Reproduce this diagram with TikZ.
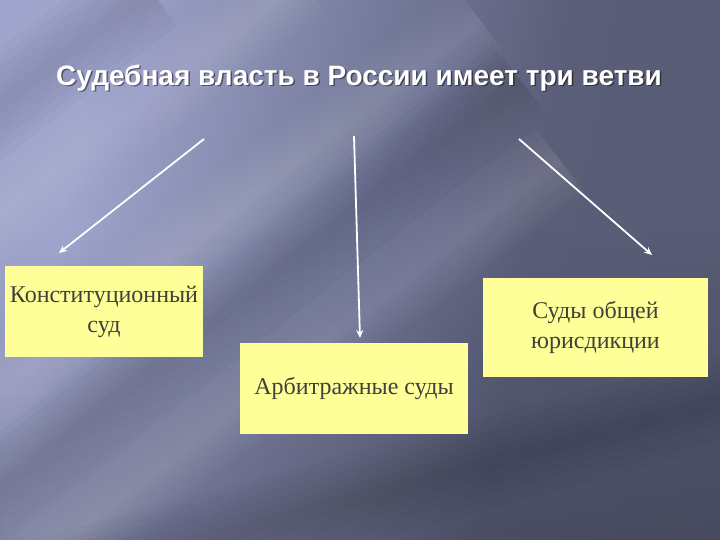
\documentclass[tikz,border=0pt]{standalone}
\usepackage{fontspec}
\setmainfont{Liberation Serif}
\newfontfamily\titlefont{Liberation Sans}
\usetikzlibrary{arrows.meta,fadings}
\definecolor{bgA}{RGB}{160,165,205}
\definecolor{bgM}{RGB}{118,123,156}
\definecolor{bgB}{RGB}{90,94,120}
\definecolor{bgC}{RGB}{84,87,110}
\definecolor{boxyellow}{RGB}{255,255,153}
\definecolor{boxtext}{RGB}{64,64,56}
\pgfdeclarehorizontalshading{bgshade}{100bp}{
  color(0bp)=(bgA); color(28bp)=(bgA); color(48bp)=(bgM); color(62bp)=(bgB); color(100bp)=(bgC)}
\tikzset{
  branch/.style={fill=boxyellow, draw=none, inner sep=2pt, align=center,
    font=\fontsize{24}{30}\selectfont, text=boxtext},
  conn/.style={draw=white, line width=1.8pt, -{Stealth[length=8pt,width=7pt]}},
  streakline/.style={draw=white, opacity=0.018, line cap=butt},
  darkline/.style={draw=black, opacity=0.018, line cap=butt}
}
\begin{document}
\begin{tikzpicture}[x=1pt,y=-1pt]
\useasboundingbox (0,0) rectangle (720,540);
% background
\shade[shading=bgshade, shading angle=-10] (0,0) rectangle (720,540);
\fill[black, opacity=0.18, path fading=north] (0,230) rectangle (720,540);
\begin{scope}
\clip (0,0) rectangle (720,540);
% soft light streaks (lower left to upper right)
\foreach \w in {80,68,56,44,32,20,10} {
  \draw[streakline, line width=\w pt] (-40,420) -- (480,20);
  \draw[streakline, line width=\w pt] (40,560) -- (560,160);
  \draw[streakline, line width=\w pt] (-60,260) -- (300,-20);
}
\foreach \w in {90,75,60,45,30,15} {
  \draw[darkline, line width=\w pt] (-40,520) -- (520,80);
  \draw[darkline, line width=\w pt] (150,-10) -- (-60,150);
  \draw[darkline, line width=\w pt] (-20,600) -- (760,390);
}
\end{scope}
% title
\node[font=\titlefont\bfseries\fontsize{28}{32}\selectfont, text=black, opacity=0.45] at (360.5,79.5) {Судебная власть в России имеет три ветви};
\node[font=\titlefont\bfseries\fontsize{28}{32}\selectfont, text=white] (title) at (359,78) {Судебная власть в России имеет три ветви};
% boxes
\node[branch, minimum width=198pt, minimum height=91pt] (konst) at (104,311.5) {Конституционный\\суд};
\node[branch, minimum width=228pt, minimum height=91pt] (arb) at (354,388.5) {Арбитражные суды};
\node[branch, minimum width=225pt, minimum height=99pt] (obsh) at (595.5,327.5) {Суды общей\\юрисдикции};
% connectors
\coordinate (s1) at (204,139);
\coordinate (e1) at (59,253);
\coordinate (s2) at (354,136);
\coordinate (e2) at (360,338);
\coordinate (s3) at (519,139);
\coordinate (e3) at (652,255);
\draw[conn] (s1) -- (e1);
\draw[conn] (s2) -- (e2);
\draw[conn] (s3) -- (e3);
\end{tikzpicture}
\end{document}
